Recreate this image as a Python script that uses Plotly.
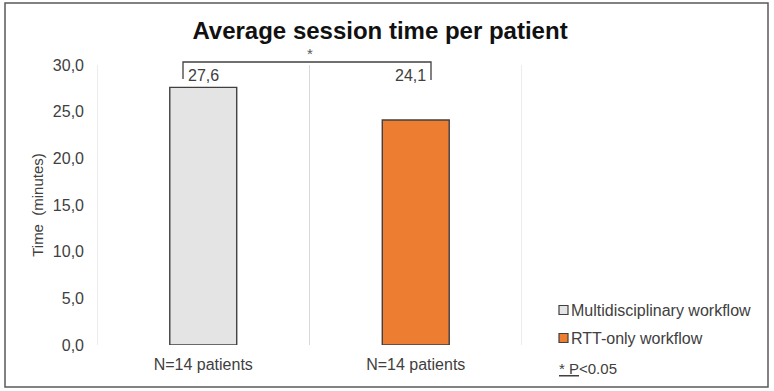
import plotly.graph_objects as go

categories = ["N=14 patients", "N=14 patients"]
series_names = ["Multidisciplinary workflow", "RTT-only workflow"]
values = [27.6, 24.1]
y_ticks = [0, 5, 10, 15, 20, 25, 30]
title_text = "Average session time per patient"
y_title = "Time  (minutes)"
sig_text = "<u>* P</u>&lt;0.05"

colors = ["#e4e4e4", "#ed7d31"]
FONT = "Liberation Sans, Arial, sans-serif"
DARK = "#404040"

W, H = 774, 391
# plot area in window pixels: x 97..522, y 65..345
L, R, T, B = 97, 774 - 522, 65, 391 - 345
pw, ph = W - L - R, H - T - B

def px_x(x):  # window px -> paper
    return (x - L) / pw

def px_y(y):
    return (T + ph - y) / ph

xs = list(range(len(categories)))

fig = go.Figure()
for i, (name, v) in enumerate(zip(series_names, values)):
    fig.add_trace(go.Bar(
        x=[xs[i]], y=[v], name=name, width=0.315,
        marker=dict(color=colors[i], line=dict(color=DARK, width=1.4)),
        hoverinfo="skip", showlegend=False,
    ))

annotations = []
for i, v in enumerate(values):
    annotations.append(dict(
        x=xs[i] - (0.0 if i == 0 else 0.025), y=px_y(75), xref="x", yref="paper",
        text=f"{v:.1f}".replace(".", ","), showarrow=False, yanchor="middle",
        font=dict(family=FONT, size=16, color=DARK),
    ))
annotations.append(dict(
    x=(xs[0] + xs[1]) / 2, y=px_y(54), xref="x", yref="paper", text="*",
    showarrow=False, yanchor="middle", font=dict(family=FONT, size=15, color="#595959"),
))

shapes = []
# legend (Excel style)
leg_y = [310, 338]
for i, name in enumerate(series_names):
    cy = leg_y[i]
    shapes.append(dict(type="rect", xref="paper", yref="paper",
                       x0=px_x(559), x1=px_x(568), y0=px_y(cy + 4.5), y1=px_y(cy - 4.5),
                       fillcolor=colors[i], line=dict(color=DARK, width=1.2)))
    annotations.append(dict(x=px_x(569), y=px_y(cy), xref="paper", yref="paper",
                            text=name, xanchor="left", yanchor="middle", showarrow=False,
                            font=dict(family=FONT, size=16, color=DARK)))
annotations.append(dict(
    x=px_x(557), y=px_y(368), xref="paper", yref="paper", text=sig_text,
    xanchor="left", yanchor="middle", showarrow=False,
    font=dict(family=FONT, size=15, color=DARK),
))

# significance bracket
bx0, bx1 = px_x(183), px_x(431)
by_top, by0, by1 = px_y(62), px_y(79), px_y(80)
shapes.append(dict(type="path", xref="paper", yref="paper",
                   path=f"M {bx0},{by0} L {bx0},{by_top} L {bx1},{by_top} L {bx1},{by1}",
                   line=dict(color=DARK, width=1.3)))
# chart border
shapes.append(dict(type="rect", xref="paper", yref="paper",
                   x0=px_x(5), x1=px_x(768), y0=px_y(387), y1=px_y(3),
                   line=dict(color="#595959", width=1.5)))
# category separators (vertical gridlines)
for gx in [-0.5, 0.5, 1.5]:
    shapes.append(dict(type="line", xref="x", yref="paper", x0=gx, x1=gx, y0=0, y1=1,
                       line=dict(color="#d9d9d9", width=1), layer="below"))

fig.update_layout(
    width=W, height=H,
    margin=dict(l=L, r=R, t=T, b=B, autoexpand=False),
    paper_bgcolor="white", plot_bgcolor="white",
    separators=",.",
    barmode="overlay",
    title=dict(text=f"<b>{title_text}</b>", x=380 / W, xanchor="center",
               xref="container", y=1 - 31 / H, yanchor="middle", yref="container",
               font=dict(family=FONT, size=24, color="#111111")),
    font=dict(family=FONT, size=16, color=DARK),
    showlegend=False,
    xaxis=dict(range=[-0.5, len(categories) - 0.5], tickmode="array", tickvals=xs,
               ticktext=categories, showgrid=False, zeroline=False, showline=False,
               ticks="", ticklabelstandoff=8,
               tickfont=dict(family=FONT, size=16, color=DARK)),
    yaxis=dict(range=[0, 30], tickmode="array", tickvals=y_ticks, tickformat=".1f",
               showgrid=False, zeroline=False, showline=False, ticks="",
               ticklabelstandoff=12,
               tickfont=dict(family=FONT, size=16, color=DARK),
               title=dict(text=y_title, standoff=5,
                          font=dict(family=FONT, size=15, color=DARK))),
    annotations=annotations,
    shapes=shapes,
)

fig.write_html("out.html", config={"displayModeBar": False},
               post_script="document.body.style.margin='0';document.body.style.overflow='hidden';")
